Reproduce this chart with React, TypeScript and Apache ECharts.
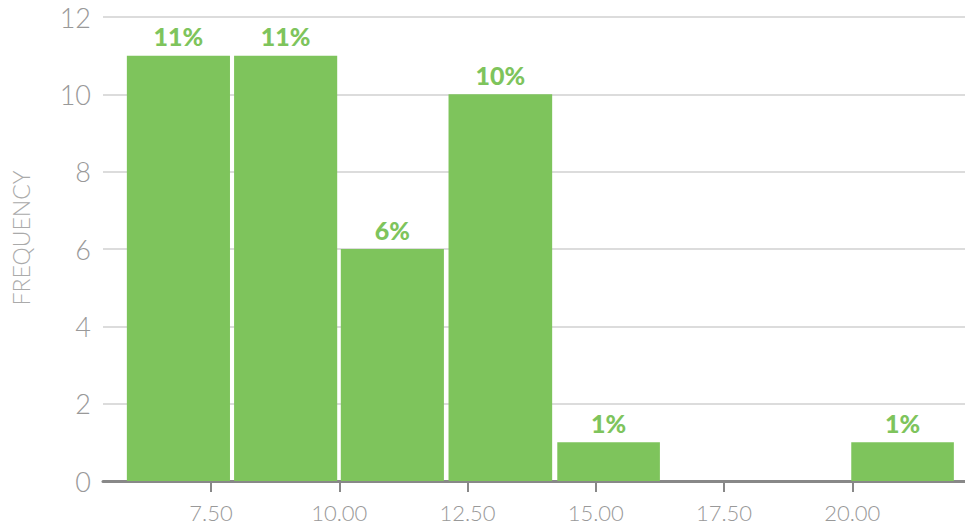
import React, { useEffect, useRef } from "react";
import * as echarts from "echarts";

// Histogram bins (edges) and their counts / labels
const binStarts = [5.86, 7.95, 10.03, 12.13, 14.25, 19.98];
const binEnds = [7.87, 9.96, 12.04, 14.15, 16.25, 21.98];
const counts = [11, 11, 6, 10, 1, 1];
const percentLabels = ["11%", "11%", "6%", "10%", "1%", "1%"];

const xTickValues = [7.5, 10, 12.5, 15, 17.5, 20];
const xTickLabels = ["7.50", "10.00", "12.50", "15.00", "17.50", "20.00"];
const yTickLabels = ["0", "2", "4", "6", "8", "10", "12"];
const yAxisTitle = "FREQUENCY";

const GREEN = "#7EC45C";

export default function App() {
  const ref = useRef<HTMLDivElement>(null);
  useEffect(() => {
    if (!ref.current) return;
    const chart = echarts.init(ref.current, undefined, { renderer: "svg" });
    const data = binStarts.map((s, i) => [s, binEnds[i], counts[i]]);
    chart.setOption({
      animation: false,
      grid: { left: 103, right: 0, top: 17, bottom: 46, containLabel: false },
      graphic: [
        {
          type: "text",
          x: 20.5,
          y: 238,
          rotation: Math.PI / 2,
          style: {
            text: yAxisTitle,
            align: "center",
            verticalAlign: "middle",
            fill: "#aaaaaa",
            font: "300 23px Lato",
          },
        },
      ],
      xAxis: {
        type: "value",
        min: 5.395,
        max: 22.197,
        splitLine: { show: false },
        axisLine: { show: true, lineStyle: { color: "#888888", width: 3 } },
        axisTick: {
          show: true,
          customValues: xTickValues,
          length: 11,
          lineStyle: { color: "#888888", width: 2 },
        },
        axisLabel: {
          customValues: xTickValues,
          formatter: (v: number) => xTickLabels[xTickValues.indexOf(v)] ?? v.toFixed(2),
          margin: 20,
          color: "#999999",
          fontFamily: "Lato",
          fontWeight: 300,
          fontSize: 22,
        },
      },
      yAxis: {
        type: "value",
        min: 0,
        max: 12,
        interval: 2,
        axisLine: { show: false },
        axisTick: { show: false },
        splitLine: { show: true, lineStyle: { color: "#dcdcdc", width: 2 } },
        axisLabel: {
          formatter: (v: number) => yTickLabels[v / 2] ?? String(v),
          margin: 12,
          color: "#999999",
          fontFamily: "Lato",
          fontWeight: 300,
          fontSize: 27,
        },
      },
      series: [
        {
          type: "custom",
          data,
          encode: { x: [0, 1], y: 2 },
          renderItem: (params: any, api: any) => {
            const s = api.value(0);
            const e = api.value(1);
            const c = api.value(2);
            const idx = params.dataIndex;
            const p0 = api.coord([s, c]);
            const p1 = api.coord([e, 0]);
            const x = p0[0];
            const w = p1[0] - p0[0];
            const y = p0[1];
            const h = p1[1] - p0[1];
            return {
              type: "group",
              children: [
                { type: "rect", shape: { x, y, width: w, height: h }, style: { fill: GREEN } },
                {
                  type: "text",
                  x: x + w / 2,
                  y: y - 7,
                  style: {
                    text: percentLabels[idx],
                    align: "center",
                    verticalAlign: "bottom",
                    fill: GREEN,
                    font: "900 25px Lato",
                  },
                },
              ],
            };
          },
        },
      ],
    });
    return () => chart.dispose();
  }, []);
  return (
    <div
      ref={ref}
      style={{ position: "fixed", left: 0, top: 0, width: 965, height: 527, background: "#ffffff" }}
    />
  );
}
